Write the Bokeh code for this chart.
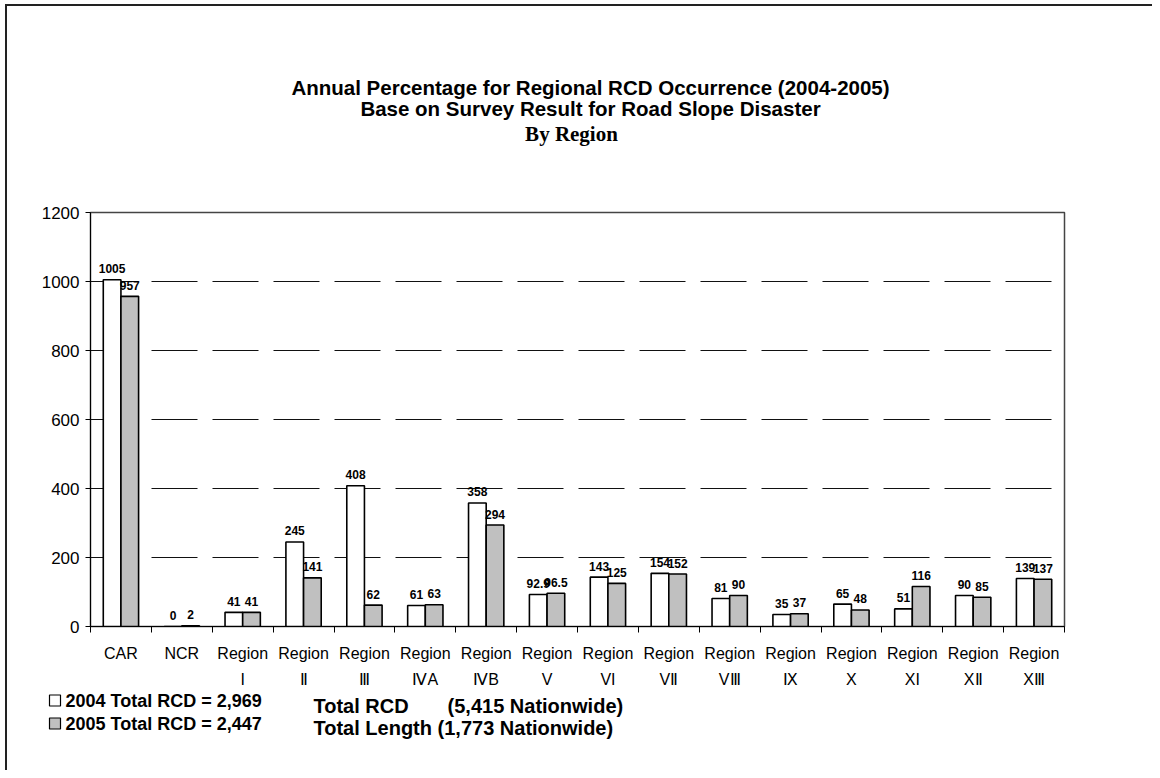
import numpy as np
from bokeh.plotting import figure
from bokeh.layouts import column
from bokeh.models import ColumnDataSource, FixedTicker, Range1d
from bokeh.core.properties import value
from bokeh.embed import file_html
from bokeh.resources import INLINE

# ---------------- data ----------------
categories = ["CAR", "NCR", "Region\nI", "Region\nⅡ", "Region\nⅢ", "Region\nⅣA",
              "Region\nⅣB", "Region\nV", "Region\nVI", "Region\nVⅡ", "Region\nVⅢ",
              "Region\nⅨ", "Region\nX", "Region\nXI", "Region\nXⅡ", "Region\nXⅢ"]
rcd_2004 = [1005, 0, 41, 245, 408, 61, 358, 92.9, 143, 154, 81, 35, 65, 51, 90, 139]
rcd_2005 = [957, 2, 41, 141, 62, 63, 294, 96.5, 125, 152, 90, 37, 48, 116, 85, 137]
y_ticks = [0, 200, 400, 600, 800, 1000, 1200]
grid_ticks = [200, 400, 600, 800, 1000]
legend_labels = ["2004 Total RCD = 2,969", "2005 Total RCD = 2,447"]
legend_colors = ["white", "#c0c0c0"]
title_lines = ["Annual Percentage for Regional RCD Occurrence (2004-2005)",
               "Base on Survey Result for Road Slope Disaster"]
subtitle = "By Region"
note_lines = ["Total RCD" + "\u00a0" * 7 + "(5,415 Nationwide)",
              "Total Length (1,773 Nationwide)"]

FONT = "Liberation Sans"
OX, OY = 7, 6            # offset of the content inside the outer chart border
W = 1152 - OX            # content width
TOP_H = 200 - OY
MAIN_H = 12 + 414 + 64
BOT_Y0 = 200 + MAIN_H    # page y where the bottom strip starts
BOT_H = 770 - BOT_Y0

n = len(categories)
idx = np.arange(n)
bw = 0.29

# ---------------- title strip ----------------
pt = figure(width=W, height=TOP_H, output_backend="svg", toolbar_location=None,
            x_range=Range1d(0, W), y_range=Range1d(TOP_H, 0), title=None,
            x_axis_type=None, y_axis_type=None, min_border=0,
            outline_line_color=None, frame_align=False)
pt.text(x=[590 - OX, 590 - OX], y=[87 - OY, 108 - OY], text=title_lines,
        text_align="center", text_baseline="middle", text_font=value(FONT),
        text_font_style="bold", text_font_size="20.5px", text_color="black")
pt.text(x=[571 - OX], y=[133 - OY], text=[subtitle], text_align="center",
        text_baseline="middle", text_font=value("Liberation Serif"),
        text_font_style="bold", text_font_size="21px", text_color="black")

# ---------------- main chart ----------------
src = ColumnDataSource(dict(
    x04=idx + 0.5 - bw / 2, x05=idx + 0.5 + bw / 2,
    y04=rcd_2004, y05=rcd_2005,
    t04=[f"{v:g}" for v in rcd_2004], t05=[f"{v:g}" for v in rcd_2005],
))

frame_left = 90 - OX
frame_right = 1064 - OX
p = figure(width=W, height=MAIN_H, output_backend="svg", toolbar_location=None,
           x_range=Range1d(0, n), y_range=Range1d(0, 1200), title=None,
           min_border_left=frame_left, min_border_right=W - frame_right,
           min_border_top=12, min_border_bottom=MAIN_H - 12 - 414,
           background_fill_color="white", border_fill_color="white",
           frame_align=False)

p.outline_line_color = "#444444"
p.outline_line_width = 1.5

p.xgrid.grid_line_color = None
p.ygrid.ticker = FixedTicker(ticks=grid_ticks)
p.ygrid.grid_line_color = "#111111"
p.ygrid.grid_line_width = 1
p.ygrid.grid_line_dash = "46 15"

r04 = p.vbar(x="x04", top="y04", bottom=0, width=bw, source=src,
             fill_color=legend_colors[0], line_color="black", line_width=1.6)
r05 = p.vbar(x="x05", top="y05", bottom=0, width=bw, source=src,
             fill_color=legend_colors[1], line_color="black", line_width=1.6)

for xc, yc, tc in (("x04", "y04", "t04"), ("x05", "y05", "t05")):
    p.text(x=xc, y=yc, text=tc, source=src,
           text_align="center", text_baseline="alphabetic", y_offset=-11,
           text_font=value(FONT), text_font_style="bold",
           text_font_size="12px", text_color="black")

ya = p.yaxis[0]
ya.ticker = FixedTicker(ticks=y_ticks)
ya.major_tick_in = 0
ya.major_tick_out = 5
ya.minor_tick_line_color = None
ya.axis_line_color = "black"
ya.major_tick_line_color = "black"
ya.major_label_text_font = FONT
ya.major_label_text_font_size = "17px"
ya.major_label_text_color = "black"
ya.major_label_standoff = 6

xa = p.xaxis[0]
xa.ticker = FixedTicker(ticks=list(idx + 0.5), minor_ticks=list(range(n + 1)))
xa.major_label_overrides = {float(i + 0.5): c for i, c in enumerate(categories)}
xa.major_tick_in = 0
xa.major_tick_out = 0
xa.minor_tick_in = 0
xa.minor_tick_out = 6
xa.minor_tick_line_color = "black"
xa.axis_line_color = "black"
xa.major_label_text_font = FONT
xa.major_label_text_font_size = "16px"
xa.major_label_text_line_height = 1.55
xa.major_label_text_color = "black"
xa.major_label_standoff = 12

# ---------------- legend + notes strip ----------------
pb = figure(width=W, height=BOT_H, output_backend="svg", toolbar_location=None,
            x_range=Range1d(0, W), y_range=Range1d(BOT_H, 0), title=None,
            x_axis_type=None, y_axis_type=None, min_border=0,
            outline_line_color=None, frame_align=False)
leg_rows = [700 - BOT_Y0, 723 - BOT_Y0]
pb.rect(x=[54.5 - OX] * 2, y=leg_rows, width=11, height=11,
        width_units="screen", height_units="screen",
        fill_color=legend_colors, line_color="black", line_width=1.2)
pb.text(x=[65 - OX] * 2, y=leg_rows, text=legend_labels,
        text_align="left", text_baseline="middle", text_font=value(FONT),
        text_font_style="bold", text_font_size="18px", text_color="black")
pb.text(x=[313 - OX] * 2, y=[705 - BOT_Y0, 727 - BOT_Y0], text=note_lines,
        text_align="left", text_baseline="middle", text_font=value(FONT),
        text_font_style="bold", text_font_size="20px", text_color="black")

layout = column(pt, p, pb, spacing=0,
                styles={"border-left": "2px solid #222222",
                        "border-top": "2px solid #222222",
                        "margin-left": f"{OX - 2}px", "margin-top": f"{OY - 2}px"})

open("out.html", "w").write(file_html(layout, INLINE))
